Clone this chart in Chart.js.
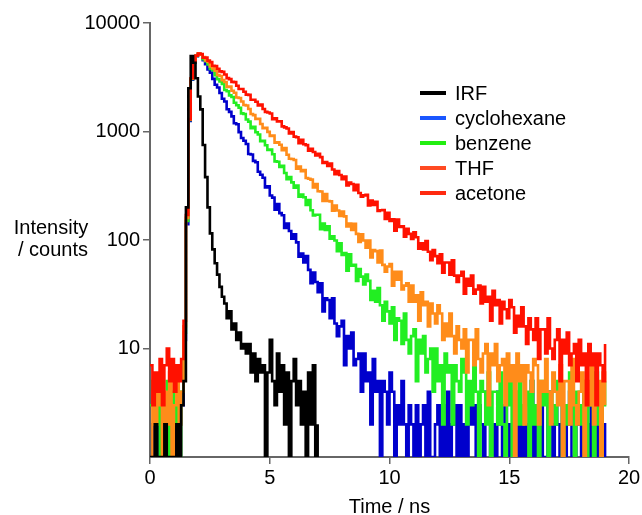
<!DOCTYPE html>
<html>
<head>
<meta charset="utf-8">
<title>Fluorescence decays</title>
<script src="https://cdn.jsdelivr.net/npm/chart.js@4.4.1/dist/chart.umd.min.js"></script>
<style>
  html, body { margin: 0; padding: 0; background: #fff; }
  canvas { display: block; }
</style>
</head>
<body>
<canvas id="decayChart" width="642" height="515"></canvas>
<script>
// time bins (ns), one row per ns
const timeNs = [
  0.0, 0.1, 0.2, 0.3, 0.4, 0.5, 0.6, 0.7, 0.8, 0.9,
  1.0, 1.1, 1.2, 1.3, 1.4, 1.5, 1.6, 1.7, 1.8, 1.9,
  2.0, 2.1, 2.2, 2.3, 2.4, 2.5, 2.6, 2.7, 2.8, 2.9,
  3.0, 3.1, 3.2, 3.3, 3.4, 3.5, 3.6, 3.7, 3.8, 3.9,
  4.0, 4.1, 4.2, 4.3, 4.4, 4.5, 4.6, 4.7, 4.8, 4.9,
  5.0, 5.1, 5.2, 5.3, 5.4, 5.5, 5.6, 5.7, 5.8, 5.9,
  6.0, 6.1, 6.2, 6.3, 6.4, 6.5, 6.6, 6.7, 6.8, 6.9,
  7.0, 7.1, 7.2, 7.3, 7.4, 7.5, 7.6, 7.7, 7.8, 7.9,
  8.0, 8.1, 8.2, 8.3, 8.4, 8.5, 8.6, 8.7, 8.8, 8.9,
  9.0, 9.1, 9.2, 9.3, 9.4, 9.5, 9.6, 9.7, 9.8, 9.9,
  10.0, 10.1, 10.2, 10.3, 10.4, 10.5, 10.6, 10.7, 10.8, 10.9,
  11.0, 11.1, 11.2, 11.3, 11.4, 11.5, 11.6, 11.7, 11.8, 11.9,
  12.0, 12.1, 12.2, 12.3, 12.4, 12.5, 12.6, 12.7, 12.8, 12.9,
  13.0, 13.1, 13.2, 13.3, 13.4, 13.5, 13.6, 13.7, 13.8, 13.9,
  14.0, 14.1, 14.2, 14.3, 14.4, 14.5, 14.6, 14.7, 14.8, 14.9,
  15.0, 15.1, 15.2, 15.3, 15.4, 15.5, 15.6, 15.7, 15.8, 15.9,
  16.0, 16.1, 16.2, 16.3, 16.4, 16.5, 16.6, 16.7, 16.8, 16.9,
  17.0, 17.1, 17.2, 17.3, 17.4, 17.5, 17.6, 17.7, 17.8, 17.9,
  18.0, 18.1, 18.2, 18.3, 18.4, 18.5, 18.6, 18.7, 18.8, 18.9,
  19.0
];

// counts per bin
const irf = [
  1, 1, 2, 1, 1, 1, 2, 1, 1, 1,
  1, 2, 1, 3, 5, 200, 2500, 4950, 4300, 3100,
  2100, 1600, 750, 380, 200, 115, 82, 61, 48, 37,
  30, 26, 19, 22, 15, 17, 12, 14, 10, 11,
  9, 11, 6, 9, 5, 8, 6, 7, 1, 6,
  12, 5, 3, 9, 4, 7, 2, 6, 1, 5,
  8, 3, 5, 2, 4, 1, 6, 2, 7, 1,
  2
];

const cyclohexane = [
  1, 2, 1, 3, 1, 2, 1, 1, 3, 1,
  2, 1, 2, 3, 12, 140, 1250, 3000, 4300, 4950,
  5180, 5150, 4532, 4180, 3726, 3486, 3053, 2698, 2544, 2262,
  2006, 1893, 1601, 1517, 1378, 1193, 1165, 986, 872, 821,
  766, 621, 613, 536, 521, 426, 400, 375, 305, 312,
  257, 246, 190, 215, 177, 169, 129, 142, 121, 103,
  113, 95, 70, 75, 62, 71, 53, 40, 50, 41,
  33, 40, 22, 29, 28, 19, 29, 17, 13, 16,
  18, 7, 13, 10, 14, 7, 8, 9, 4, 9,
  5, 6, 2, 8, 4, 5, 1, 5, 4, 2,
  6, 4, 1, 3, 2, 5, 2, 1, 3, 2,
  1, 3, 1, 2, 3, 1, 4, 1, 1, 2,
  3, 1, 3, 1, 4, 1, 2, 3, 1, 3,
  1, 2, 1, 4, 2, 3, 1, 3, 2, 1,
  4, 3, 1, 2, 1, 4, 2, 1, 3, 2,
  1, 2, 4, 1, 2, 1, 3, 1, 2, 5,
  1, 2, 1, 3, 1, 1, 4, 2, 1, 3,
  2, 1, 3, 1, 2, 4, 1, 1, 3, 2,
  1, 4, 2, 1, 3, 1, 2, 1, 4, 2,
  1
];

const benzene = [
  3, 5, 2, 4, 1, 3, 2, 5, 1, 4,
  2, 3, 1, 4, 14, 150, 1280, 3050, 4350, 4980,
  5200, 5150, 4647, 4446, 4153, 3774, 3678, 3297, 3034, 2891,
  2737, 2415, 2349, 2151, 2078, 1843, 1747, 1655, 1468, 1448,
  1291, 1233, 1073, 1103, 984, 937, 814, 821, 746, 677,
  681, 618, 531, 526, 472, 484, 415, 364, 380, 340,
  303, 317, 251, 263, 248, 210, 234, 188, 168, 171,
  171, 126, 142, 124, 134, 103, 108, 99, 79, 93,
  73, 76, 52, 74, 58, 59, 42, 54, 46, 39,
  48, 42, 28, 34, 27, 36, 25, 18, 27, 22,
  17, 24, 12, 19, 18, 11, 21, 12, 9, 13,
  15, 5, 12, 9, 13, 6, 8, 10, 4, 10,
  5, 7, 2, 9, 6, 7, 2, 7, 5, 4,
  8, 6, 2, 5, 3, 7, 4, 1, 5, 4,
  2, 6, 1, 4, 4, 2, 6, 2, 1, 3,
  5, 1, 4, 2, 5, 2, 3, 4, 1, 5,
  2, 3, 1, 5, 3, 4, 1, 4, 3, 2,
  5, 4, 1, 3, 2, 6, 3, 1, 4, 3,
  2, 5, 1, 3, 4, 1, 6, 2, 1, 3,
  5
];

const thf = [
  1, 4, 2, 5, 3, 1, 4, 2, 6, 1,
  3, 5, 2, 4, 16, 160, 1290, 3080, 4400, 5000,
  5220, 5120, 4848, 4519, 4372, 3986, 3807, 3632, 3316, 3250,
  2978, 2856, 2579, 2591, 2377, 2274, 2055, 2038, 1893, 1756,
  1737, 1613, 1448, 1417, 1308, 1307, 1173, 1070, 1079, 993,
  912, 917, 788, 795, 755, 674, 705, 610, 561, 557,
  546, 454, 475, 431, 441, 373, 367, 360, 305, 327,
  281, 280, 229, 265, 229, 227, 186, 208, 187, 167,
  183, 165, 133, 142, 124, 141, 114, 96, 113, 99,
  85, 99, 69, 81, 79, 62, 80, 59, 51, 57,
  60, 38, 51, 43, 51, 35, 38, 40, 27, 38,
  27, 31, 18, 33, 25, 27, 16, 26, 21, 17,
  25, 21, 12, 17, 13, 21, 13, 9, 16, 12,
  10, 15, 6, 12, 12, 7, 15, 8, 6, 9,
  11, 3, 9, 7, 11, 5, 7, 8, 3, 9,
  5, 7, 1, 9, 5, 7, 2, 7, 6, 4,
  8, 7, 2, 5, 4, 8, 4, 2, 6, 4,
  3, 7, 1, 5, 5, 2, 8, 3, 2, 4,
  6, 1, 5, 3, 7, 2, 4, 5, 1, 6,
  3
];

const acetone = [
  7, 3, 6, 4, 8, 3, 7, 10, 5, 8,
  4, 7, 5, 8, 18, 170, 1300, 3100, 4450, 5000,
  5230, 5170, 4797, 4806, 4504, 4355, 4038, 4006, 3789, 3583,
  3545, 3352, 3101, 3042, 2867, 2853, 2638, 2468, 2467, 2323,
  2185, 2176, 1962, 1959, 1883, 1739, 1774, 1610, 1516, 1496,
  1465, 1299, 1321, 1235, 1240, 1114, 1091, 1067, 961, 987,
  896, 884, 782, 838, 763, 749, 664, 694, 647, 602,
  624, 581, 512, 522, 482, 506, 447, 405, 431, 397,
  364, 385, 319, 339, 328, 288, 322, 271, 250, 258,
  261, 208, 231, 210, 225, 185, 188, 189, 156, 178,
  150, 155, 122, 154, 132, 134, 107, 127, 114, 102,
  118, 106, 83, 93, 82, 98, 78, 65, 81, 71,
  61, 74, 50, 62, 62, 48, 65, 47, 41, 47,
  51, 32, 44, 38, 47, 32, 35, 38, 26, 37,
  27, 30, 18, 34, 25, 28, 17, 27, 23, 19,
  28, 24, 14, 20, 16, 24, 16, 11, 19, 15,
  12, 19, 8, 15, 15, 9, 19, 10, 8, 12,
  15, 5, 12, 9, 14, 7, 9, 11, 5, 12,
  7, 9, 3, 11, 7, 9, 3, 9, 7, 5,
  11
];

const seriesNames = ['IRF', 'cyclohexane', 'benzene', 'THF', 'acetone'];
const seriesData = [irf, cyclohexane, benzene, thf, acetone];
const lineColors = ['#000000', '#0000cc', '#22ee22', '#ff8c1a', '#ff1100'];
const legendColors = ['#000000', '#1a56ff', '#22ee11', '#ff4a22', '#ff2a10'];
const drawOrder = [0, 4, 3, 2, 1]; // lower = drawn on top
const yTickValues = [10, 100, 1000, 10000];

Chart.defaults.font.family = '"Liberation Sans", Arial, Helvetica, sans-serif';
Chart.defaults.color = '#000';

// y title written flat, plus the legend box inside the plot
const sideLabels = {
  id: 'sideLabels',
  afterDraw(chart) {
    const ctx = chart.ctx;
    ctx.save();
    ctx.font = '20px "Liberation Sans", Arial, sans-serif';
    ctx.fillStyle = '#000';
    ctx.textAlign = 'center';
    ctx.textBaseline = 'middle';
    ctx.fillText('Intensity', 51, 228);
    ctx.fillText('/ counts', 53, 250);

    ctx.textAlign = 'left';
    seriesNames.forEach(function (name, i) {
      const y = 93 + i * 25;
      ctx.strokeStyle = legendColors[i];
      ctx.lineWidth = 4;
      ctx.beginPath();
      ctx.moveTo(420, y);
      ctx.lineTo(446, y);
      ctx.stroke();
      ctx.fillText(name, 455, y + 1);
    });
    ctx.restore();
  }
};

const ctx = document.getElementById('decayChart').getContext('2d');
new Chart(ctx, {
  type: 'line',
  data: {
    labels: timeNs,
    datasets: seriesNames.map(function (name, i) {
      return {
        label: name,
        data: seriesData[i],
        borderColor: lineColors[i],
        backgroundColor: lineColors[i],
        borderWidth: 2.6,
        pointRadius: 0,
        stepped: true,
        fill: false,
        order: drawOrder[i]
      };
    })
  },
  options: {
    responsive: false,
    animation: false,
    devicePixelRatio: 1,
    layout: { padding: { top: 23, right: 13, bottom: 0, left: 0 } },
    plugins: {
      legend: { display: false },
      tooltip: { enabled: false }
    },
    scales: {
      x: {
        type: 'linear',
        min: 0,
        max: 20,
        ticks: { stepSize: 5, maxRotation: 0, padding: 2, font: { size: 20 } },
        grid: { drawOnChartArea: false, tickLength: 7, color: '#666', lineWidth: 1.5 },
        border: { color: '#666', width: 2 },
        title: { display: true, text: 'Time / ns', font: { size: 20, lineHeight: 1 }, padding: { top: 0, bottom: -2 } },
        afterFit(scale) {
          scale.height = 58;
          scale.paddingLeft = 0;
          scale.paddingRight = 0;
        }
      },
      y: {
        type: 'logarithmic',
        min: 1,
        max: 10000,
        afterBuildTicks(scale) {
          scale.ticks = yTickValues.map(function (v) { return { value: v }; });
        },
        ticks: {
          padding: 3,
          font: { size: 20 },
          callback: function (value) { return String(value); }
        },
        grid: { drawOnChartArea: false, tickLength: 7, color: '#666', lineWidth: 1.5 },
        border: { color: '#666', width: 2 },
        afterFit(scale) {
          scale.width = 150;
          scale.paddingTop = 0;
          scale.paddingBottom = 0;
        }
      }
    }
  },
  plugins: [sideLabels]
});
</script>
</body>
</html>
